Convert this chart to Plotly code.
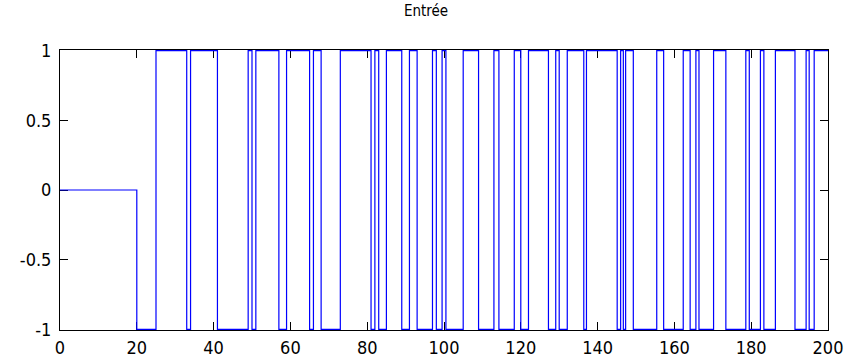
import plotly.graph_objects as go

# Switching instants (s) and the level held from each instant on
switch_times = [0, 20, 25, 33, 34, 41, 49, 50, 51, 57, 59, 65, 66, 68, 73,
                81, 82, 83, 85, 89, 91, 93, 97, 98, 99.5, 100.5, 105, 109, 113,
                114.3, 118.3, 120, 122, 127.2, 129.1, 130, 132.1, 136.4, 137.1,
                145.1, 146, 146.7, 147.3, 149.3, 155.4, 157.2, 162.3, 164.1,
                165.6, 166.4, 170.2, 173.4, 178.6, 179.5, 182.4, 183.3, 186.3,
                191.4, 194.3, 195.1, 196.4, 200]
levels = [0, -1, 1, -1, 1, -1, 1, -1, 1, -1, 1, -1, 1, -1, 1,
          -1, 1, -1, 1, -1, 1, -1, 1, -1, 1, -1, 1, -1, 1,
          -1, 1, -1, 1, -1, 1, -1, 1, -1, 1,
          -1, 1, -1, 1, -1, 1, -1, 1, -1,
          1, -1, 1, -1, 1, -1, 1, -1, 1,
          -1, 1, -1, 1, 1]

x_ticks = [0, 20, 40, 60, 80, 100, 120, 140, 160, 180, 200]
y_ticks = [-1, -0.5, 0, 0.5, 1]
y_tick_labels = ["-1", "-0.5", "0", "0.5", "1"]

FONT = "Liberation Sans Narrow, DejaVu Sans Condensed, Arial Narrow, sans-serif"

fig = go.Figure()
fig.add_trace(go.Scatter(
    x=switch_times, y=levels, mode="lines", line_shape="hv",
    line=dict(color="#0000FF", width=1.2), hoverinfo="skip", showlegend=False))

axis_common = dict(showgrid=False, zeroline=False, showline=True, linecolor="black",
                   linewidth=1, mirror="allticks", ticks="inside", ticklen=8,
                   tickcolor="black", tickwidth=1, layer="below traces",
                   automargin=False,
                   tickfont=dict(family=FONT, size=18, color="black"))

fig.update_layout(
    width=852, height=364,
    margin=dict(l=60, r=24, t=50, b=34),
    paper_bgcolor="white", plot_bgcolor="white",
    title=dict(text="Entrée", x=0.5, xanchor="center", y=0.985, yanchor="top",
               font=dict(family=FONT, size=15, color="black")),
    xaxis=dict(range=[0, 200], tickvals=x_ticks, ticklabelstandoff=1, **axis_common),
    yaxis=dict(range=[-1.005, 1.005], tickvals=y_ticks, ticktext=y_tick_labels,
               ticklabelstandoff=4, **axis_common),
)

fig.write_html("out.html")
